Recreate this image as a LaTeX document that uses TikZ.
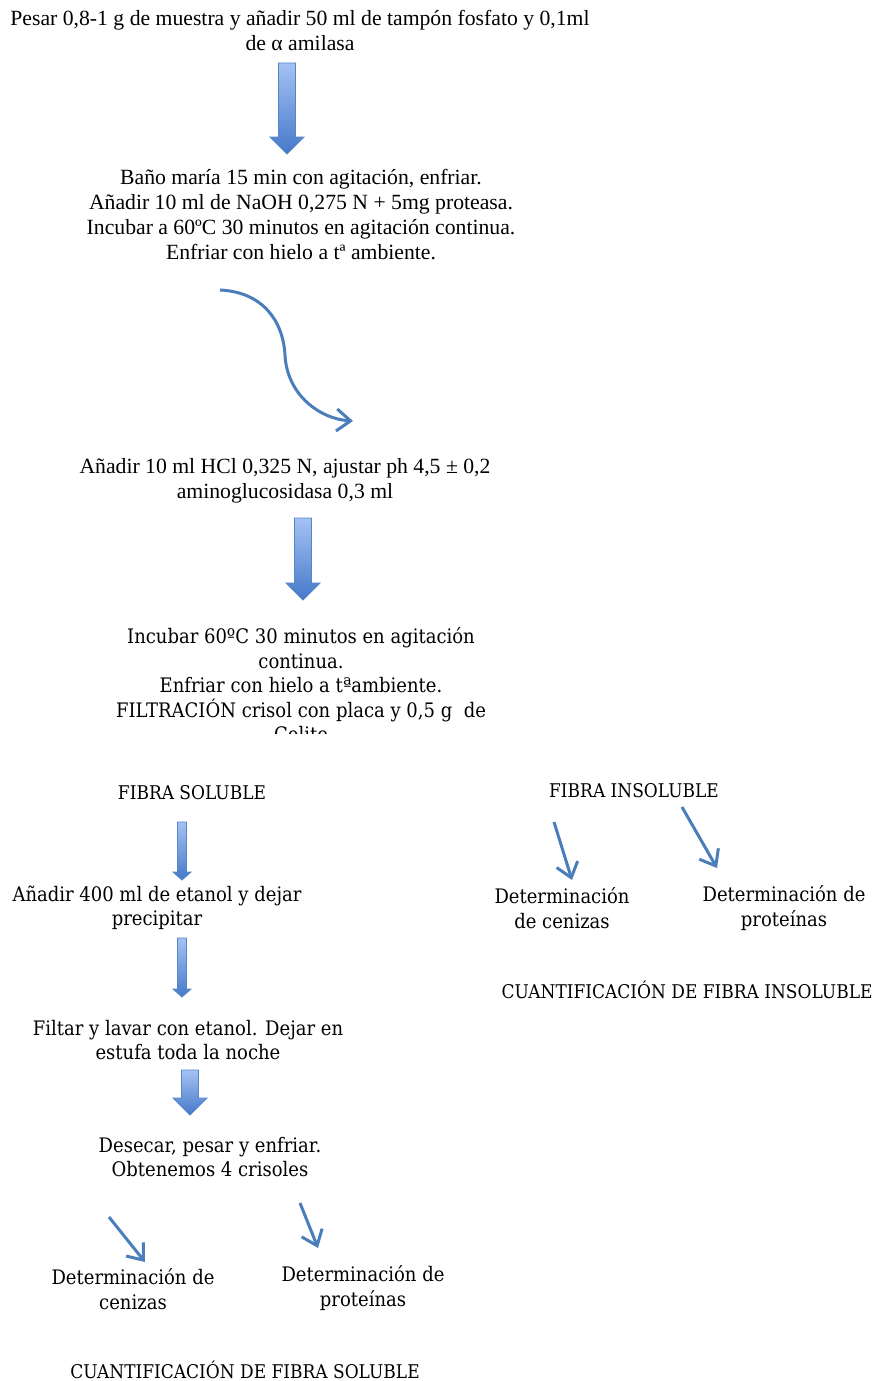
\documentclass[tikz,border=0pt]{standalone}
\usepackage{fontspec}
\setmainfont{Liberation Serif}
\newfontfamily\cambria[FakeStretch=0.9]{DejaVu Serif}
\usetikzlibrary{arrows.meta,calc}
\definecolor{arrowlight}{HTML}{A4C2F4}
\definecolor{arrowdark}{HTML}{4579C9}
\definecolor{arrowedge}{HTML}{5585C5}
\definecolor{linkblue}{HTML}{4A7EBB}

% block arrow: start, tip, shaft half width, head half width, head length
\newcommand{\fatarrow}[5]{%
  \shade[top color=arrowlight, bottom color=arrowdark, draw=arrowedge, line width=0.8pt]
    ($(#1)+(-#3,0)$) -- ($(#1)+(#3,0)$) -- ($(#2)+(#3,-#5)$) -- ($(#2)+(#4,-#5)$)
    -- (#2) -- ($(#2)+(-#4,-#5)$) -- ($(#2)+(-#3,-#5)$) -- cycle;}

\begin{document}
\begin{tikzpicture}[x=1pt,y=-1pt,
  times/.style={font=\fontsize{21.7}{25}\selectfont, align=center, inner sep=0pt},
  camb/.style={font=\cambria\fontsize{20}{24.5}\selectfont, align=center, inner sep=0pt},
  caps/.style={font=\cambria\fontsize{18.9}{24.5}\selectfont, align=center, inner sep=0pt},
  flecha/.style={linkblue, line width=3pt, -{Straight Barb[length=14pt,width=22pt]}}]
  \useasboundingbox (0,0) rectangle (874,1381);

  % Main steps
  \node[times] (pesar) at (300,30) {Pesar 0,8-1 g de muestra y añadir 50 ml de tampón fosfato y 0,1ml\\de α amilasa};
  \node[times] (bano) at (301,215) {Baño maría 15 min con agitación, enfriar.\\Añadir 10 ml de NaOH 0,275 N + 5mg proteasa.\\Incubar a 60ºC 30 minutos en agitación continua.\\Enfriar con hielo a tª ambiente.};
  \node[times] (hcl) at (285,481) {Añadir 10 ml HCl 0,325 N, ajustar ph 4,5 ± 0,2\\aminoglucosidasa 0,3 ml};
  \begin{scope}
    \clip (0,600) rectangle (874,733);
    \node[camb] (incubar) at (301,685) {Incubar 60ºC 30 minutos en agitación\\continua.\\Enfriar con hielo a tªambiente.\\FILTRACIÓN crisol con placa y 0,5 g\ \ de\\Celite};
  \end{scope}

  % Soluble branch
  \node[caps] (soluble) at (192,793) {FIBRA SOLUBLE};
  \node[camb] (etanol) at (157,908) {Añadir 400 ml de etanol y dejar\\precipitar};
  \node[camb] (filtrar) at (188,1040) {Filtar y lavar con etanol. Dejar en\\estufa toda la noche};
  \node[camb] (desecar) at (210,1157) {Desecar, pesar y enfriar.\\Obtenemos 4 crisoles};
  \node[camb] (cenizasS) at (133,1289) {Determinación de\\cenizas};
  \node[camb] (proteinasS) at (363,1288) {Determinación de\\proteínas};
  \node[caps] (cuantS) at (245,1370) {CUANTIFICACIÓN DE FIBRA SOLUBLE};

  % Insoluble branch
  \node[caps] (insoluble) at (634,791) {FIBRA INSOLUBLE};
  \node[camb] (cenizasI) at (562,908) {Determinación\\de cenizas};
  \node[camb] (proteinasI) at (784,908) {Determinación de\\proteínas};
  \node[caps] (cuantI) at (687,990) {CUANTIFICACIÓN DE FIBRA INSOLUBLE};

  % Block arrows
  \coordinate (a1s) at (287,63);   \coordinate (a1t) at (287,154);
  \coordinate (a2s) at (303,518);  \coordinate (a2t) at (303,600);
  \coordinate (a3s) at (182,822);  \coordinate (a3t) at (182,880);
  \coordinate (a4s) at (182,938);  \coordinate (a4t) at (182,997);
  \coordinate (a5s) at (190,1070); \coordinate (a5t) at (190,1115);
  \fatarrow{a1s}{a1t}{8.5}{17}{17}
  \fatarrow{a2s}{a2t}{8.5}{17}{17}
  \fatarrow{a3s}{a3t}{4.5}{9}{8}
  \fatarrow{a4s}{a4t}{4.5}{9}{8}
  \fatarrow{a5s}{a5t}{8.5}{17}{17}

  % Curved arrow
  \coordinate (c1) at (220,290);
  \coordinate (c2) at (285,355);
  \coordinate (c3) at (353,421);
  \draw[flecha] (c1) .. controls (262,292) and (283,320) .. (c2)
    .. controls (287,395) and (320,419) .. (c3);

  % Thin arrows
  \coordinate (i1s) at (554,822); \coordinate (i1t) at (572,880);
  \coordinate (i2s) at (682,807); \coordinate (i2t) at (717,868);
  \coordinate (s1s) at (109,1217); \coordinate (s1t) at (145,1262);
  \coordinate (s2s) at (300,1203); \coordinate (s2t) at (318,1248);
  \draw[flecha] (i1s) -- (i1t);
  \draw[flecha] (i2s) -- (i2t);
  \draw[flecha] (s1s) -- (s1t);
  \draw[flecha] (s2s) -- (s2t);
\end{tikzpicture}
\end{document}
